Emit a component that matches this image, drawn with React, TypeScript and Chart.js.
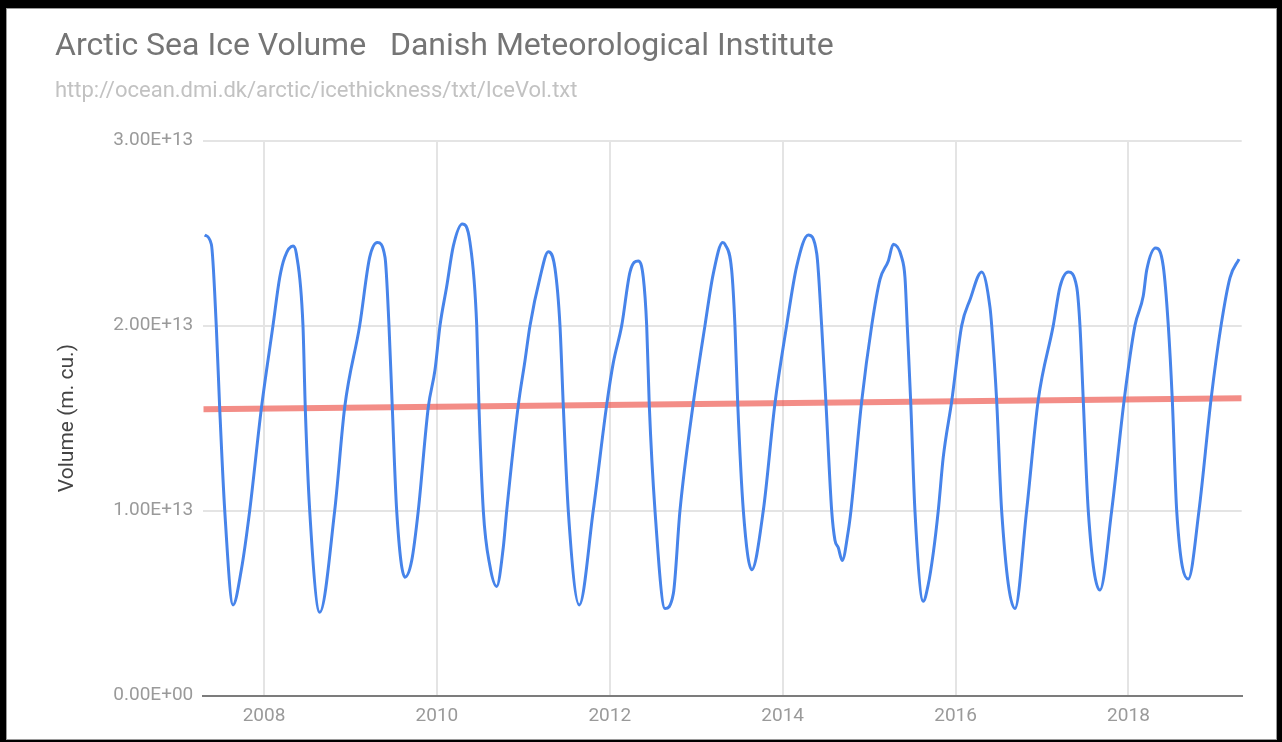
import React, { useEffect, useRef } from "react";
import { Chart, registerables } from "chart.js";

Chart.register(...registerables);

// ---- data (volume in units of 1e13) ----
const UNIT = 1e13;

const volumeYears = [
  2007.314, 2007.391, 2007.448, 2007.488, 2007.546, 2007.642, 2007.738, 2007.835, 2007.969,
  2008.104, 2008.182, 2008.24, 2008.336, 2008.374, 2008.451, 2008.478, 2008.529, 2008.645,
  2008.818, 2008.934, 2009.107, 2009.223, 2009.311, 2009.4, 2009.446, 2009.484, 2009.535,
  2009.631, 2009.709, 2009.785, 2009.901, 2009.978, 2010.036, 2010.113, 2010.19, 2010.294,
  2010.383, 2010.461, 2010.487, 2010.537, 2010.614, 2010.692, 2010.768, 2010.808, 2010.942,
  2011.019, 2011.077, 2011.193, 2011.289, 2011.366, 2011.424, 2011.462, 2011.52, 2011.647,
  2011.809, 2011.964, 2012.041, 2012.138, 2012.234, 2012.33, 2012.388, 2012.427, 2012.457,
  2012.523, 2012.639, 2012.735, 2012.812, 2012.966, 2013.101, 2013.197, 2013.306, 2013.333,
  2013.41, 2013.448, 2013.48, 2013.545, 2013.642, 2013.776, 2013.911, 2014.046, 2014.162,
  2014.296, 2014.394, 2014.451, 2014.501, 2014.567, 2014.605, 2014.643, 2014.689, 2014.759,
  2014.79, 2014.914, 2015.03, 2015.126, 2015.222, 2015.28, 2015.376, 2015.415, 2015.441,
  2015.481, 2015.53, 2015.626, 2015.684, 2015.742, 2015.8, 2015.858, 2015.955, 2016.071,
  2016.167, 2016.302, 2016.398, 2016.418, 2016.476, 2016.533, 2016.687, 2016.822, 2016.957,
  2017.13, 2017.208, 2017.304, 2017.401, 2017.439, 2017.477, 2017.535, 2017.67, 2017.806,
  2017.951, 2018.075, 2018.171, 2018.211, 2018.315, 2018.403, 2018.461, 2018.507, 2018.558,
  2018.692, 2018.816, 2018.955, 2019.071, 2019.175, 2019.279,
];

const volumeValues = [
  2.49, 2.44, 2.0, 1.55, 1.0, 0.49, 0.68, 1.0, 1.55,
  2.0, 2.26, 2.37, 2.43, 2.39, 2.0, 1.55, 1.0, 0.45,
  1.0, 1.56, 2.0, 2.37, 2.45, 2.37, 2.0, 1.56, 1.0,
  0.64, 0.73, 1.0, 1.56, 1.76, 2.0, 2.21, 2.43, 2.55,
  2.45, 2.0, 1.56, 1.0, 0.7, 0.59, 0.8, 1.0, 1.57,
  1.81, 2.0, 2.26, 2.4, 2.31, 2.0, 1.57, 1.0, 0.49,
  1.0, 1.57, 1.8, 2.0, 2.29, 2.35, 2.26, 2.0, 1.57,
  1.0, 0.47, 0.55, 1.0, 1.58, 2.0, 2.28, 2.45, 2.44,
  2.3, 2.0, 1.58, 1.0, 0.68, 1.0, 1.58, 2.0, 2.32,
  2.49, 2.39, 2.0, 1.58, 1.0, 0.84, 0.8, 0.73, 0.89,
  1.0, 1.59, 2.0, 2.25, 2.35, 2.44, 2.37, 2.26, 2.0,
  1.59, 1.0, 0.51, 0.6, 0.77, 1.0, 1.29, 1.59, 2.0,
  2.14, 2.29, 2.1, 2.0, 1.59, 1.0, 0.47, 1.0, 1.6,
  2.0, 2.21, 2.29, 2.21, 2.0, 1.6, 1.0, 0.57, 1.0,
  1.6, 2.0, 2.16, 2.3, 2.42, 2.32, 2.0, 1.6, 1.0,
  0.63, 1.0, 1.6, 2.0, 2.26, 2.36,
];

const trendYears = [2007.298, 2019.31];
const trendValues = [1.548, 1.607];

const xMin = 2007.298;
const xMax = 2019.31;
const xTickStep = 2;
const yMax = 3;
const yTickStep = 1;

const chartTitle = "Arctic Sea Ice Volume   Danish Meteorological Institute";
const chartSubtitle = "http://ocean.dmi.dk/arctic/icethickness/txt/IceVol.txt";
const yAxisTitle = "Volume (m. cu.)";

const formatSci = (v: number) => {
  if (v === 0) return "0.00E+00";
  const exp = Math.floor(Math.log10(Math.abs(v)));
  const mant = v / Math.pow(10, exp);
  return mant.toFixed(2) + "E+" + String(exp).padStart(2, "0");
};

export default function App() {
  const canvasRef = useRef<HTMLCanvasElement | null>(null);

  useEffect(() => {
    const canvas = canvasRef.current;
    if (!canvas) return;
    Chart.defaults.font.family = "Roboto";

    const gridGray = "#e4e4e4";
    const baseGray = "#7c7c7c";
    const tickColor = "#9a9a9a";

    const chart = new Chart(canvas, {
      type: "line",
      data: {
        datasets: [
          {
            label: "Volume",
            data: volumeYears.map((x, i) => ({ x, y: volumeValues[i] * UNIT })),
            borderColor: "#4784ea",
            borderWidth: 3,
            pointRadius: 0,
            cubicInterpolationMode: "monotone",
            fill: false,
          },
          {
            label: "Trend",
            data: trendYears.map((x, i) => ({ x, y: trendValues[i] * UNIT })),
            borderColor: "rgba(236, 80, 70, 0.65)",
            borderWidth: 6,
            pointRadius: 0,
            fill: false,
          },
        ],
      },
      options: {
        responsive: false,
        animation: false,
        events: [],
        layout: { padding: { left: 55, right: 40.3, top: 0, bottom: 6.5 } },
        plugins: {
          legend: { display: false },
          tooltip: { enabled: false },
          title: {
            display: true,
            text: chartTitle,
            align: "start",
            color: "#757575",
            font: { family: "Roboto", size: 32, weight: "normal" },
            padding: { top: 27.8, bottom: 0 },
          },
          subtitle: {
            display: true,
            text: chartSubtitle,
            align: "start",
            color: "#c2c2c2",
            font: { family: "Roboto", size: 22, weight: "normal" },
            padding: { top: 11.6, bottom: 36.5 },
          },
        },
        scales: {
          x: {
            type: "linear",
            min: xMin,
            max: xMax,
            afterFit: (s: any) => {
              s.height = 40;
            },
            grid: { color: gridGray, lineWidth: 2, drawTicks: false },
            border: { display: true, color: baseGray, width: 2 },
            ticks: {
              stepSize: xTickStep,
              includeBounds: false,
              padding: 9,
              color: tickColor,
              autoSkip: false,
              maxRotation: 0,
              font: { family: "Roboto", size: 19 },
              callback: (v: any) => String(v),
            },
          },
          y: {
            type: "linear",
            min: 0,
            max: yMax * UNIT,
            afterFit: (s: any) => {
              s.width = 148.3;
            },
            grid: {
              color: (ctx: any) => (ctx.tick && ctx.tick.value === 0 ? baseGray : gridGray),
              lineWidth: 2,
              drawTicks: false,
            },
            border: { display: false },
            ticks: {
              stepSize: yTickStep * UNIT,
              padding: 10,
              color: tickColor,
              font: { family: "Roboto", size: 19 },
              callback: (v: any) => formatSci(Number(v)),
            },
            title: {
              display: true,
              text: yAxisTitle,
              color: "#444444",
              font: { family: "Roboto", size: 21 },
              padding: { top: 0, bottom: 0 },
            },
          },
        },
      },
    } as any);

    return () => chart.destroy();
  }, []);

  return (
    <div
      style={{
        position: "fixed",
        left: 0,
        top: 0,
        width: 1282,
        height: 742,
        background: "#000",
        overflow: "hidden",
      }}
    >
      <div
        style={{
          position: "absolute",
          left: 6,
          top: 8,
          width: 1271,
          height: 732,
          background: "#fff",
          border: "1px solid #9a9a9a",
          boxSizing: "border-box",
        }}
      />
      <canvas
        ref={canvasRef}
        width={1282}
        height={742}
        style={{ position: "absolute", left: 0, top: 0, width: 1282, height: 742 }}
      />
    </div>
  );
}
